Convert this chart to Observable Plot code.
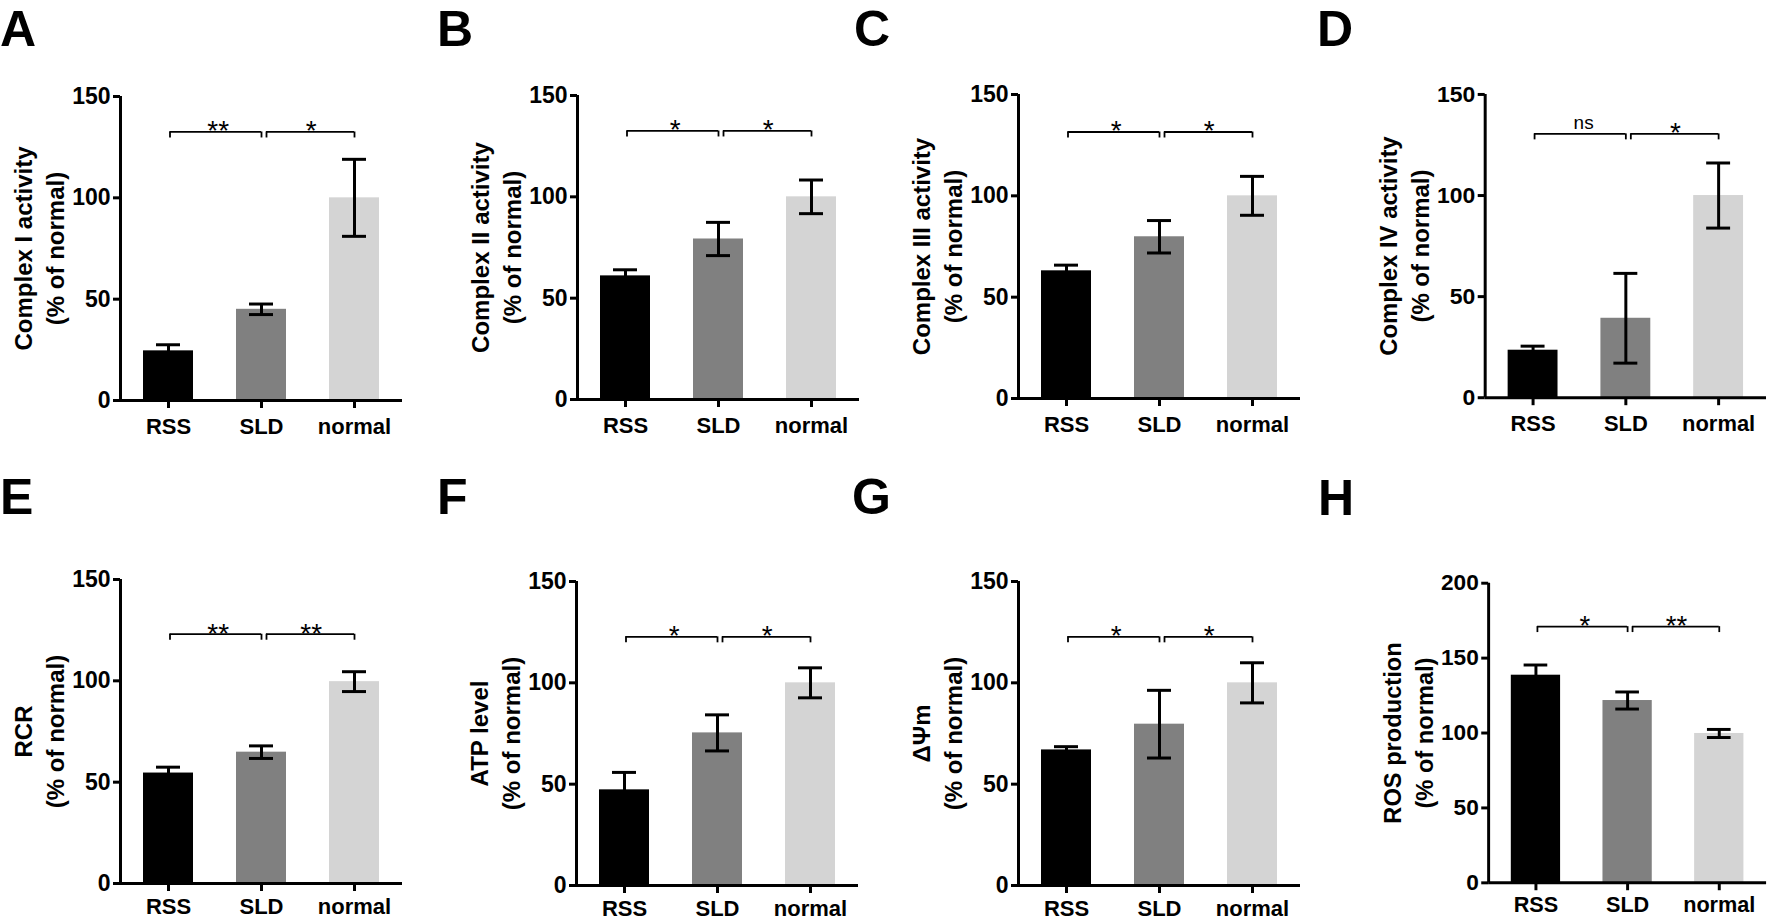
<!DOCTYPE html>
<html>
<head>
<meta charset="utf-8">
<script src="https://cdn.jsdelivr.net/npm/d3@7"></script>
<script src="https://cdn.jsdelivr.net/npm/@observablehq/plot@0.6"></script>
<style>
  html, body { margin: 0; padding: 0; background: #fff; overflow: hidden; }
  #root { position: relative; width: 1772px; height: 920px; overflow: hidden; background: #fff; }
  .panel { position: absolute; }
  .letter { position: absolute; font-family: 'Liberation Sans', Arial, Helvetica, sans-serif; font-weight: bold;
            font-size: 50px; line-height: 40px; color: #000; }
</style>
</head>
<body>
<div id="root"></div>
<script>
// ---------------- data ----------------
const categories = ["RSS", "SLD", "normal"];
const barColors = ["#000000", "#808080", "#d4d4d4"];
const panelLetters = ["A", "B", "C", "D", "E", "F", "G", "H"];
const yTitles = [
  "Complex I activity\n(% of normal)",
  "Complex II activity\n(% of normal)",
  "Complex III activity\n(% of normal)",
  "Complex IV activity\n(% of normal)",
  "RCR\n(% of normal)",
  "ATP level\n(% of normal)",
  "ΔΨm\n(% of normal)",
  "ROS production\n(% of normal)"
];
const ticks150 = [0, 50, 100, 150];
const ticks200 = [0, 50, 100, 150, 200];

const complexIMean   = [24.5, 45.0, 100];   const complexISd   = [3.0, 2.6, 19.0];
const complexIIMean  = [61.0, 79.2, 100];   const complexIISd  = [3.0, 8.2, 8.3];
const complexIIIMean = [63.0, 79.8, 100];   const complexIIISd = [2.8, 8.0, 9.6];
const complexIVMean  = [23.5, 39.3, 100];   const complexIVSd  = [2.0, 22.2, 16.1];
const rcrMean        = [54.5, 64.8, 99.6];  const rcrSd        = [2.9, 3.1, 4.9];
const atpMean        = [47.2, 75.3, 100];   const atpSd        = [8.6, 8.9, 7.4];
const dpsiMean       = [66.9, 79.6, 100];   const dpsiSd       = [1.6, 16.7, 9.9];
const rosMean        = [138.6, 121.7, 99.7];const rosSd        = [6.8, 5.7, 2.7];

// significance labels: [RSS vs SLD, SLD vs normal]
const sigA = ["**", "*"];
const sigB = ["*", "*"];
const sigC = ["*", "*"];
const sigD = ["ns", "*"];
const sigE = ["**", "**"];
const sigF = ["*", "*"];
const sigG = ["*", "*"];
const sigH = ["*", "**"];
// bracket heights (data units)
const bracketLevels = [132.5, 132.5, 131.5, 130.5, 123, 122.7, 122.7, 171];

const panels = [
  {mean: complexIMean,   sd: complexISd,   sig: sigA, ticks: ticks150},
  {mean: complexIIMean,  sd: complexIISd,  sig: sigB, ticks: ticks150},
  {mean: complexIIIMean, sd: complexIIISd, sig: sigC, ticks: ticks150},
  {mean: complexIVMean,  sd: complexIVSd,  sig: sigD, ticks: ticks150},
  {mean: rcrMean,        sd: rcrSd,        sig: sigE, ticks: ticks150},
  {mean: atpMean,        sd: atpSd,        sig: sigF, ticks: ticks150},
  {mean: dpsiMean,       sd: dpsiSd,       sig: sigG, ticks: ticks150},
  {mean: rosMean,        sd: rosSd,        sig: sigH, ticks: ticks200}
].map((p, k) => ({...p, title: yTitles[k], letter: panelLetters[k], bracket: bracketLevels[k]}));

// ---------------- layout ----------------
const FONT = "'Liberation Sans', Arial, Helvetica, sans-serif";
const FRAME_W = 282, FRAME_H = 304;
const ML = 130, MR = 6, MT = 20, MB = 50;
const PAD_INNER = 0.464, PAD_OUTER = 0.243;
const CAP_INSET = 13;
const BRACKET_DROP_PX = 6;
const axisLeftPx = [120, 577, 1018, 1485, 120, 576, 1018, 1490];
const frameTopPx = [96, 95, 94.3, 94.3, 579.3, 580.7, 580.7, 582.7];
const xLabelPadPx = [10, 10, 10, 10, 7, 7, 7, 6];
const letterLeftPx = [0, 437, 854, 1317, 0, 437, 852, 1318];
const letterCapTopPx = [10, 10, 10, 10, 478, 478, 478, 479];

const root = document.getElementById("root");

panels.forEach((p, k) => {
  const rows = categories.map((c, j) => ({cat: c, mean: p.mean[j], sd: p.sd[j]}));
  const yMax = p.ticks[p.ticks.length - 1];
  const drop = BRACKET_DROP_PX * yMax / FRAME_H;
  const pairs = [
    {a: categories[0], b: categories[1], label: p.sig[0], level: p.bracket},
    {a: categories[1], b: categories[2], label: p.sig[1], level: p.bracket}
  ];
  const step = FRAME_W / (categories.length - PAD_INNER + 2 * PAD_OUTER);
  const bw = step * (1 - PAD_INNER);
  const isStar = (d) => d.label.includes("*");

  const svg = Plot.plot({
    width: ML + FRAME_W + MR,
    height: MT + FRAME_H + MB,
    marginLeft: ML, marginRight: MR, marginTop: MT, marginBottom: MB,
    style: {fontFamily: FONT, color: "#000", background: "transparent", overflow: "visible"},
    x: {domain: categories, paddingInner: PAD_INNER, paddingOuter: PAD_OUTER, axis: null},
    y: {domain: [0, yMax], axis: null},
    color: {domain: categories, range: barColors},
    marks: [
      Plot.barY(rows, {x: "cat", y: "mean", fill: "cat"}),
      Plot.ruleX(rows, {x: "cat", y1: (d) => d.mean - d.sd, y2: (d) => d.mean + d.sd, stroke: "#000", strokeWidth: 3}),
      Plot.tickY(rows, {x: "cat", y: (d) => d.mean + d.sd, stroke: "#000", strokeWidth: 3, insetLeft: CAP_INSET, insetRight: CAP_INSET}),
      Plot.tickY(rows, {x: "cat", y: (d) => d.mean - d.sd, stroke: "#000", strokeWidth: 3, insetLeft: CAP_INSET, insetRight: CAP_INSET}),
      // significance brackets
      Plot.ruleY([pairs[0]], {x1: "a", x2: "b", y: "level", insetLeft: bw / 2 + 1.5, insetRight: bw / 2, stroke: "#000", strokeWidth: 1.8}),
      Plot.ruleY([pairs[1]], {x1: "a", x2: "b", y: "level", insetLeft: bw / 2 + 5, insetRight: bw / 2, stroke: "#000", strokeWidth: 1.8}),
      Plot.ruleX([pairs[0]], {x: "a", y1: (d) => d.level - drop, y2: "level", dx: 1.5, stroke: "#000", strokeWidth: 1.8}),
      Plot.ruleX([pairs[1]], {x: "a", y1: (d) => d.level - drop, y2: "level", dx: 5, stroke: "#000", strokeWidth: 1.8}),
      Plot.ruleX(pairs, {x: "b", y1: (d) => d.level - drop, y2: "level", stroke: "#000", strokeWidth: 1.8}),
      Plot.text(pairs, {filter: isStar, x: "a", y: "level", text: "label", dx: step / 2 + 3, dy: 8.5,
                        lineAnchor: "bottom", fontSize: 28, fontWeight: "normal", fill: "#000"}),
      Plot.text(pairs, {filter: (d) => !isStar(d), x: "a", y: "level", text: "label", dx: step / 2 + 4, dy: -5,
                        lineAnchor: "bottom", fontSize: 19, fontWeight: "normal", fill: "#000"}),
      // axes
      Plot.ruleX([null], {x: null, dx: -FRAME_W / 2, stroke: "#000", strokeWidth: 3}),
      Plot.ruleY([0], {stroke: "#000", strokeWidth: 3}),
      Plot.axisY({ticks: p.ticks, tickSize: 7, tickPadding: 3, strokeWidth: 3, fontSize: 23, fontWeight: "bold",
                  tickFormat: (d) => String(d), label: null}),
      Plot.axisX({tickSize: 8, tickPadding: xLabelPadPx[k], strokeWidth: 3, fontSize: 22, fontWeight: "bold", label: null}),
      // y-axis title
      Plot.text([p.title], {text: (d) => d, frameAnchor: "left", rotate: -90, dx: -83, lineAnchor: "middle",
                            textAnchor: "middle", fontSize: 24, fontWeight: "bold", lineHeight: 1.33, fill: "#000"})
    ]
  });

  const div = document.createElement("div");
  div.className = "panel";
  div.style.left = (axisLeftPx[k] - ML) + "px";
  div.style.top = (frameTopPx[k] - MT) + "px";
  div.appendChild(svg);
  root.appendChild(div);

  const letter = document.createElement("div");
  letter.className = "letter";
  letter.textContent = p.letter;
  letter.style.left = letterLeftPx[k] + "px";
  letter.style.top = (letterCapTopPx[k] - 1.5) + "px";
  root.appendChild(letter);
});
</script>
</body>
</html>
